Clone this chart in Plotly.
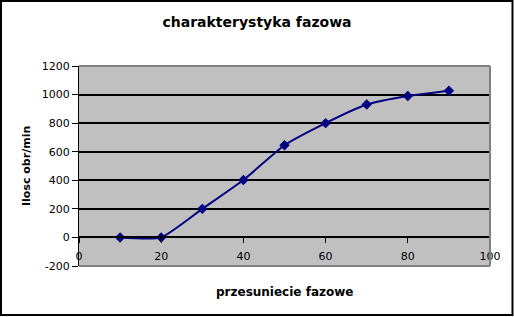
import plotly.graph_objects as go

x_vals = [10, 20, 30, 40, 50, 60, 70, 80, 90]
y_vals = [0, 0, 200, 402, 645, 800, 930, 990, 1027]
x_ticks = [0, 20, 40, 60, 80, 100]
y_ticks = [-200, 0, 200, 400, 600, 800, 1000, 1200]
y_tick_text = ["-200", "0", "200", "400", "600", "800", "1000", "1200"]

W, H = 514, 317
L, R, T, B = 79, 24, 66, 51

fig = go.Figure()
fig.add_trace(go.Scatter(
    x=x_vals, y=y_vals, mode="lines+markers",
    line=dict(color="#000080", width=2, shape="spline", smoothing=0.5),
    marker=dict(symbol="diamond", size=8, color="#000080"),
    showlegend=False, cliponaxis=False,
))

ymin, ymax = -200, 1200
pos0 = (0 - ymin) / (ymax - ymin)
pw, ph = W - L - R, H - T - B

fig.update_layout(
    width=W, height=H,
    margin=dict(l=L, r=R, t=T, b=B),
    paper_bgcolor="white", plot_bgcolor="#C0C0C0",
    font=dict(family="DejaVu Sans", color="black", size=11),
    title=dict(text="<b>charakterystyka fazowa</b>", x=0.5, xref="container",
               xanchor="center", y=1 - 22 / H, yanchor="middle", font=dict(size=14)),
    xaxis=dict(range=[0, 100], tickvals=x_ticks, ticks="outside", ticklen=5,
               tickcolor="black", tickwidth=1, showgrid=False, zeroline=False,
               showline=True, linecolor="black", linewidth=2,
               anchor="free", position=pos0, domain=[0, 1],
               ticklabelstandoff=3, tickfont=dict(size=11)),
    yaxis=dict(range=[ymin, ymax], tickvals=y_ticks, ticktext=y_tick_text,
               ticks="outside", ticklen=6,
               tickcolor="black", tickwidth=1, showgrid=True, gridcolor="black",
               gridwidth=2, zeroline=False, showline=True, linecolor="black",
               linewidth=1, tickfont=dict(size=11)),
)

# plot area grey border (top, right, bottom)
for (x0, y0, x1, y1) in [(0, 1, 1, 1), (1, 0, 1, 1), (0, 0, 1, 0)]:
    fig.add_shape(type="line", xref="paper", yref="paper", x0=x0, y0=y0, x1=x1, y1=y1,
                  line=dict(color="#808080", width=2), layer="above")

# outer chart border
fig.add_shape(type="rect", xref="paper", yref="paper",
              x0=(1 - L) / pw, x1=(512.5 - L) / pw,
              y0=-(315 - (H - B)) / ph, y1=1 + (T - 1) / ph,
              line=dict(color="black", width=2), layer="above")

fig.add_annotation(text="<b>przesuniecie fazowe</b>", xref="paper", yref="paper",
                   x=0.5, y=-(292 - (H - B)) / ph, yanchor="middle", showarrow=False,
                   font=dict(size=12))
fig.add_annotation(text="<b>Ilosc obr/min</b>", xref="paper", yref="paper",
                   x=-(L - 26) / pw, xanchor="center", y=0.5, textangle=-90,
                   showarrow=False, font=dict(size=11))

fig.write_html("out.html")
